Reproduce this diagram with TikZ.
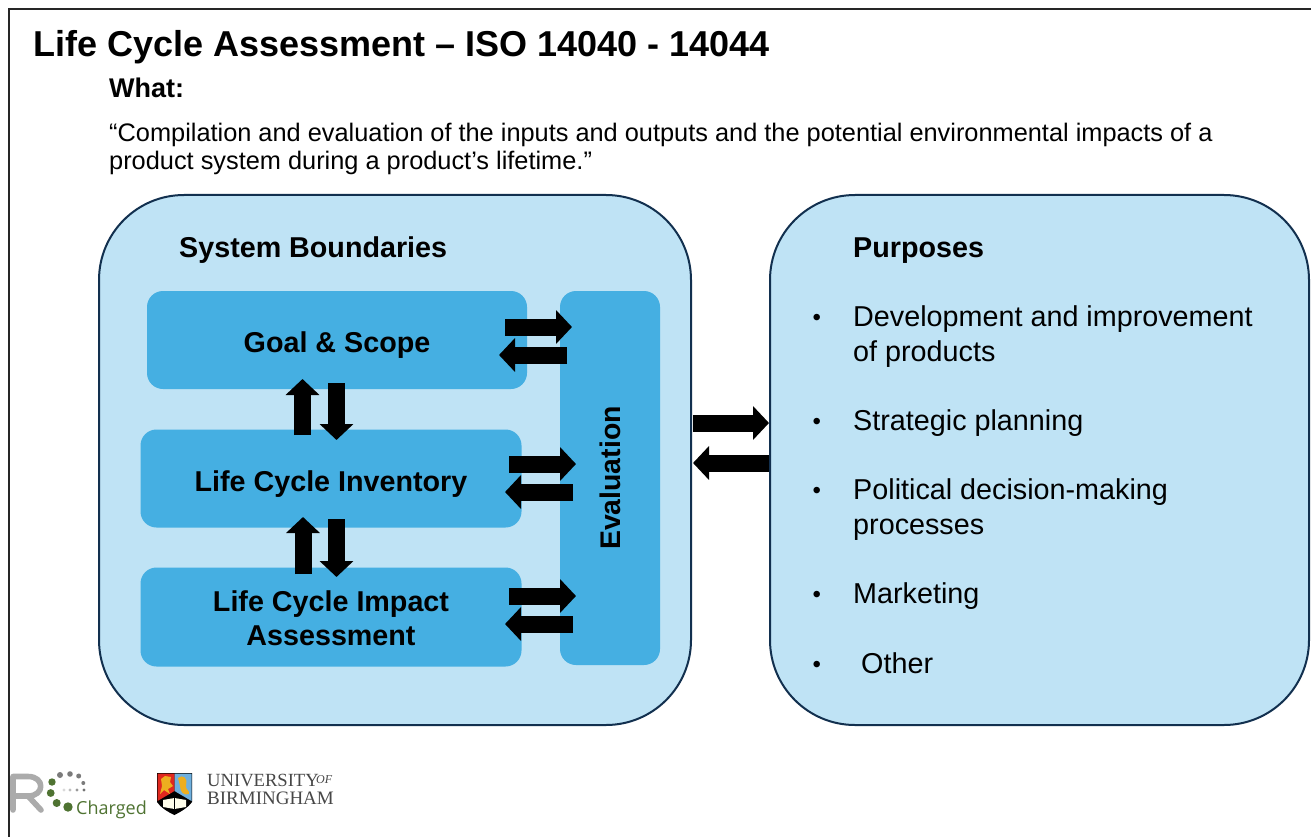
\documentclass[tikz,border=0pt]{standalone}
\usepackage{fontspec}
\setmainfont{Liberation Sans}
\newfontfamily\logoserif{Liberation Serif}
\newfontfamily\logosans{Open Sans}
\usetikzlibrary{arrows.meta,calc}
\definecolor{lightblue}{HTML}{BFE3F5}
\definecolor{midblue}{HTML}{45AFE2}
\definecolor{navy}{HTML}{12304F}
\definecolor{leaf}{HTML}{4F7332}
\definecolor{rgrey}{HTML}{ABABAB}
\definecolor{dotgrey}{HTML}{7B7B7B}
\definecolor{shieldred}{HTML}{E0281F}
\definecolor{shieldblue}{HTML}{6FB0DE}
\definecolor{shieldgold}{HTML}{EDAE1F}
\tikzset{
 outerbox/.style={draw=navy,line width=2pt,fill=lightblue,rounded corners=85pt,inner sep=0pt},
 innerbox/.style={fill=midblue,rounded corners=16pt,inner sep=0pt,align=center,font=\fontsize{28.7}{34}\selectfont\bfseries},
 blockarrow/.style={line width=17pt,-{Triangle[length=16pt,width=33pt]},black},
 plain/.style={inner sep=0pt,anchor=base west},
 bodytext/.style={plain,font=\fontsize{28.75}{35}\selectfont},
 bullettext/.style={plain,font=\fontsize{24}{30}\selectfont},
 quotetext/.style={plain,font=\fontsize{25.35}{30}\selectfont},
 boldtext/.style={plain,font=\fontsize{27}{35}\selectfont\bfseries},
}
\begin{document}
\begin{tikzpicture}[x=1pt,y=-1pt]
\useasboundingbox (0,0) rectangle (1311,837);
\fill[white] (0,0) rectangle (1311,837);
\draw[line width=1.6pt,black!85] (9,837) -- (9,9) -- (1311,9);
\node[plain,font=\fontsize{36}{40}\selectfont\bfseries] (title) at (33,57) {Life Cycle Assessment – ISO 14040 - 14044};
\node[boldtext] (what) at (109,98) {What:};
\node[quotetext] (q1) at (109,142) {“Compilation and evaluation of the inputs and outputs and the potential environmental impacts of a};
\node[quotetext] (q2) at (109,170) {product system during a product’s lifetime.”};
% boxes
\node[outerbox,minimum width=592pt,minimum height=530pt] (sys) at (395,460) {};
\node[outerbox,minimum width=539pt,minimum height=530pt] (purp) at (1039.5,460) {};
\node[plain,font=\fontsize{28.7}{34}\selectfont\bfseries] (sysl) at (179,257) {System Boundaries};
\node[plain,font=\fontsize{28.7}{34}\selectfont\bfseries] (purl) at (853,257) {Purposes};
\node[innerbox,minimum width=380pt,minimum height=98pt] (goal) at (337,340) {\rule{0pt}{31pt}Goal \& Scope};
\node[innerbox,minimum width=381pt,minimum height=98pt] (lci) at (331,478.5) {\rule{0pt}{31pt}Life Cycle Inventory};
\node[innerbox,minimum width=381pt,minimum height=99pt] (lcia) at (331,617) {\rule{0pt}{23pt}Life Cycle Impact\\Assessment};
\node[innerbox,minimum width=100pt,minimum height=374pt] (eval) at (610,478) {};
\node[font=\fontsize{28.4}{34}\selectfont\bfseries,rotate=90,inner sep=0pt] (evall) at (610,478) {Evaluation};
% arrows
\coordinate (a1s) at (505,327); \coordinate (a1e) at (572,327);
\coordinate (a2s) at (567,355); \coordinate (a2e) at (499,355);
\coordinate (a3s) at (509,464); \coordinate (a3e) at (576,464);
\coordinate (a4s) at (573,492); \coordinate (a4e) at (505,492);
\coordinate (a5s) at (509,596); \coordinate (a5e) at (576,596);
\coordinate (a6s) at (573,624); \coordinate (a6e) at (505,624);
\coordinate (b1s) at (693,423); \coordinate (b1e) at (769,423);
\coordinate (b2s) at (769,463); \coordinate (b2e) at (693,463);
\coordinate (c1s) at (302.5,435); \coordinate (c1e) at (302.5,379);
\coordinate (c2s) at (336.5,383); \coordinate (c2e) at (336.5,440);
\coordinate (c3s) at (303,574); \coordinate (c3e) at (303,517);
\coordinate (c4s) at (336.5,519); \coordinate (c4e) at (336.5,577);
\foreach \n in {a1,a2,a3,a4,a5,a6,b1,b2,c1,c2,c3,c4}{\draw[blockarrow] (\n s) -- (\n e);}
% purposes
\foreach \yy/\tt/\nm in {326/Development and improvement/p1,361/of products/p1b,430/Strategic planning/p2,499/Political decision-making/p3,534/processes/p3b,603/Marketing/p4}{
 \node[bodytext] (\nm) at (853,\yy) {\tt};}
\node[bodytext] (p5) at (861,673) {Other};
\foreach \yy/\nm in {325/d1,429/d2,498/d3,602/d4,672/d5}{\node[bullettext] (\nm) at (812.5,\yy) {•};}
% logos
\draw[rgrey,line width=5.6pt,line cap=round,line join=round] (13,810) -- (13,776.5) -- (28,776.5) .. controls (45,776.5) and (45,796) .. (28,796) -- (13,796) (28,796) -- (41,810);
\foreach \x/\y/\r in {52/782/3.7,50.7/793/3.9,56.7/803/4,68/807/4.7}{\fill[leaf] (\x,\y) circle (\r);}
\foreach \x/\y/\r in {60/775/3,70/774/2.8,78.7/776/2.5,83.3/783/2}{\fill[dotgrey] (\x,\y) circle (\r);}
\foreach \x/\y/\c in {64/790/15,70/790/25,77/790/40,84/790/55}{\fill[black!\c] (\x,\y) circle (1.7);}
\node[plain,font=\logosans\fontsize{18}{20}\selectfont,text=leaf] (chg) at (76,814) {Charged};
% shield
\fill[black] (157,773) -- (192,773) -- (192,802) .. controls (188,808) and (180,812) .. (174.5,815) .. controls (168,812) and (161,808) .. (157,802) -- cycle;
\fill[shieldred] (157.5,773.5) -- (174.5,773.5) -- (174.5,791) -- (157.5,801) -- cycle;
\fill[shieldblue] (174.5,773.5) -- (191.5,773.5) -- (191.5,801) -- (174.5,791) -- cycle;
\fill[shieldgold] (161,779) -- (165,776) -- (171,777) -- (170,782) -- (173,786) -- (168,789) -- (170,794) -- (164,790) -- (160,794) -- (162,786) -- cycle;
\fill[shieldgold] (178,778) .. controls (183,774) and (188,778) .. (186,785) .. controls (185,790) and (190,790) .. (189,794) .. controls (184,796) and (180,792) .. (180,786) -- cycle;
\fill[white!92!yellow] (163,800) -- (174.5,798) -- (186,800) -- (186,807) -- (174.5,809) -- (163,807) -- cycle;
\draw[black,line width=.7pt] (174.5,798) -- (174.5,809);
\node[plain,font=\logoserif\fontsize{18.6}{19}\selectfont,text=black!72] (uni) at (207,786) {UNIVERSITY};
\node[plain,font=\logoserif\fontsize{12}{12}\selectfont\itshape,text=black!72] (of) at (316,783) {OF};
\node[plain,font=\logoserif\fontsize{19}{19}\selectfont,text=black!72] (bham) at (207,804) {BIRMINGHAM};
\end{tikzpicture}
\end{document}
